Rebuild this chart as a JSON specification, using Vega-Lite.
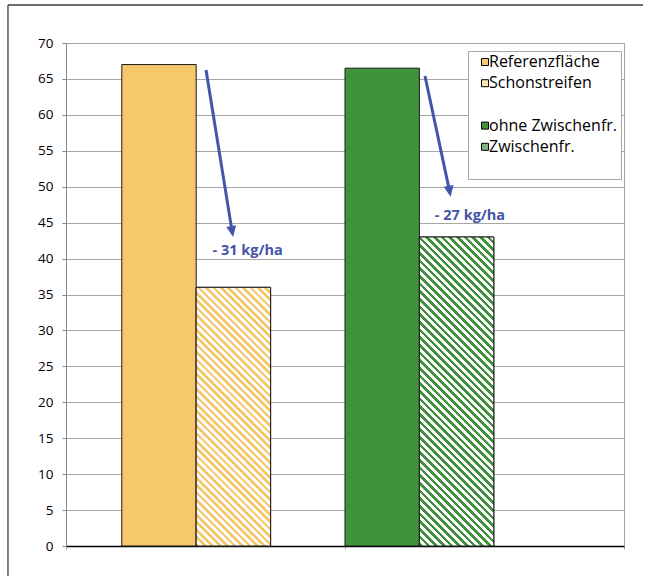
{
  "$schema": "https://vega.github.io/schema/vega-lite/v6.json",
  "width": 558,
  "height": 503,
  "autosize": {"type": "none"},
  "padding": {"left": 66, "top": 43, "right": 25, "bottom": 30},
  "background": "#ffffff",
  "config": {"view": {"stroke": "#a6a6a6", "strokeWidth": 1}, "font": "Open Sans"},
  "datasets": {
    "ertrag": [
      {"Variante": "Referenzfläche", "Ertrag": 67},
      {"Variante": "Schonstreifen", "Ertrag": 36},
      {"Variante": "ohne Zwischenfr.", "Ertrag": 66.5},
      {"Variante": "Zwischenfr.", "Ertrag": 43}
    ],
    "pfeile": [
      {"x0": 1.632, "y0": 66.24, "x1": 1.983, "y1": 43.75},
      {"x0": 4.575, "y0": 65.41, "x1": 4.906, "y1": 49.36}
    ],
    "differenz": [
      {"x": 2.192, "y": 41.1, "text": "- 31 kg/ha"},
      {"x": 5.18, "y": 45.9, "text": "- 27 kg/ha"}
    ]
  },
  "resolve": {"scale": {"x": "independent"}},
  "layer": [
    {
      "data": {"name": "ertrag"},
      "mark": {"type": "bar", "stroke": "#1a1a1a", "strokeWidth": 1},
      "encoding": {
        "x": {"field": "Variante", "type": "nominal",
          "scale": {"domain": ["Referenzfläche", "Schonstreifen", "Leer1", "ohne Zwischenfr.", "Zwischenfr.", "Leer2"], "paddingInner": 0, "paddingOuter": 0.75},
          "axis": null},
        "y": {"field": "Ertrag", "type": "quantitative",
          "scale": {"domain": [0, 70], "nice": false},
          "axis": {"values": [0, 5, 10, 15, 20, 25, 30, 35, 40, 45, 50, 55, 60, 65, 70], "labelOverlap": false, "grid": true, "gridColor": "#a6a6a6", "domainColor": "#8a8a8a", "tickColor": "#8a8a8a", "tickSize": 4, "labelFontSize": 13.5, "labelColor": "#000000", "labelPadding": 9, "labelFont": "Open Sans", "title": null}},
        "fill": {"field": "Variante", "type": "nominal",
          "scale": {
            "domain": ["Referenzfläche", "Schonstreifen", "Leer1", "ohne Zwischenfr.", "Zwischenfr.", "Leer2"],
            "range": ["#F7C86B", "#FBE3B5", "transparent", "#41923D", "#80B67D", "transparent"]
          },
          "legend": {
            "orient": "none", "legendX": 402, "legendY": 8, "title": null,
            "symbolType": "square", "symbolSize": 49, "symbolStrokeColor": "#000000", "symbolStrokeWidth": 1,
            "symbolOffset": 6, "labelOffset": -4, "labelFontSize": 16, "labelFont": "Open Sans", "labelColor": "#000000",
            "labelLimit": 220, "rowPadding": 5.2, "padding": 3,
            "strokeColor": "#a6a6a6", "fillColor": "#ffffff",
            "labelExpr": "indexof(datum.value, 'Leer') === 0 ? '                               ' : datum.label",
            "encode": {"symbols": {"update": {
              "opacity": {"signal": "indexof(datum.value, 'Leer') === 0 ? 0 : 1"},
              "stroke": {"value": "#000000"},
              "strokeWidth": {"value": 1}
            }}}
          }
        }
      }
    },
    {
      "data": {"name": "ertrag"},
      "transform": [{"filter": "datum.Variante === 'Schonstreifen'"}],
      "mark": {"type": "bar", "stroke": "#1a1a1a", "strokeWidth": 1,
        "fill": {"gradient": "linear", "x1": 0, "y1": 1, "x2": 0.342, "y2": -0.1892, "stops": [
          {"offset": 0, "color": "#F7C86B"}, {"offset": 0.0111, "color": "#F7C86B"},
          {"offset": 0.0111, "color": "#FFFFFF"}, {"offset": 0.0222, "color": "#FFFFFF"},
          {"offset": 0.0222, "color": "#F7C86B"}, {"offset": 0.0333, "color": "#F7C86B"},
          {"offset": 0.0333, "color": "#FFFFFF"}, {"offset": 0.0444, "color": "#FFFFFF"},
          {"offset": 0.0444, "color": "#F7C86B"}, {"offset": 0.0556, "color": "#F7C86B"},
          {"offset": 0.0556, "color": "#FFFFFF"}, {"offset": 0.0667, "color": "#FFFFFF"},
          {"offset": 0.0667, "color": "#F7C86B"}, {"offset": 0.0778, "color": "#F7C86B"},
          {"offset": 0.0778, "color": "#FFFFFF"}, {"offset": 0.0889, "color": "#FFFFFF"},
          {"offset": 0.0889, "color": "#F7C86B"}, {"offset": 0.1, "color": "#F7C86B"},
          {"offset": 0.1, "color": "#FFFFFF"}, {"offset": 0.1111, "color": "#FFFFFF"},
          {"offset": 0.1111, "color": "#F7C86B"}, {"offset": 0.1222, "color": "#F7C86B"},
          {"offset": 0.1222, "color": "#FFFFFF"}, {"offset": 0.1333, "color": "#FFFFFF"},
          {"offset": 0.1333, "color": "#F7C86B"}, {"offset": 0.1444, "color": "#F7C86B"},
          {"offset": 0.1444, "color": "#FFFFFF"}, {"offset": 0.1556, "color": "#FFFFFF"},
          {"offset": 0.1556, "color": "#F7C86B"}, {"offset": 0.1667, "color": "#F7C86B"},
          {"offset": 0.1667, "color": "#FFFFFF"}, {"offset": 0.1778, "color": "#FFFFFF"},
          {"offset": 0.1778, "color": "#F7C86B"}, {"offset": 0.1889, "color": "#F7C86B"},
          {"offset": 0.1889, "color": "#FFFFFF"}, {"offset": 0.2, "color": "#FFFFFF"},
          {"offset": 0.2, "color": "#F7C86B"}, {"offset": 0.2111, "color": "#F7C86B"},
          {"offset": 0.2111, "color": "#FFFFFF"}, {"offset": 0.2222, "color": "#FFFFFF"},
          {"offset": 0.2222, "color": "#F7C86B"}, {"offset": 0.2333, "color": "#F7C86B"},
          {"offset": 0.2333, "color": "#FFFFFF"}, {"offset": 0.2444, "color": "#FFFFFF"},
          {"offset": 0.2444, "color": "#F7C86B"}, {"offset": 0.2556, "color": "#F7C86B"},
          {"offset": 0.2556, "color": "#FFFFFF"}, {"offset": 0.2667, "color": "#FFFFFF"},
          {"offset": 0.2667, "color": "#F7C86B"}, {"offset": 0.2778, "color": "#F7C86B"},
          {"offset": 0.2778, "color": "#FFFFFF"}, {"offset": 0.2889, "color": "#FFFFFF"},
          {"offset": 0.2889, "color": "#F7C86B"}, {"offset": 0.3, "color": "#F7C86B"},
          {"offset": 0.3, "color": "#FFFFFF"}, {"offset": 0.3111, "color": "#FFFFFF"},
          {"offset": 0.3111, "color": "#F7C86B"}, {"offset": 0.3222, "color": "#F7C86B"},
          {"offset": 0.3222, "color": "#FFFFFF"}, {"offset": 0.3333, "color": "#FFFFFF"},
          {"offset": 0.3333, "color": "#F7C86B"}, {"offset": 0.3444, "color": "#F7C86B"},
          {"offset": 0.3444, "color": "#FFFFFF"}, {"offset": 0.3556, "color": "#FFFFFF"},
          {"offset": 0.3556, "color": "#F7C86B"}, {"offset": 0.3667, "color": "#F7C86B"},
          {"offset": 0.3667, "color": "#FFFFFF"}, {"offset": 0.3778, "color": "#FFFFFF"},
          {"offset": 0.3778, "color": "#F7C86B"}, {"offset": 0.3889, "color": "#F7C86B"},
          {"offset": 0.3889, "color": "#FFFFFF"}, {"offset": 0.4, "color": "#FFFFFF"},
          {"offset": 0.4, "color": "#F7C86B"}, {"offset": 0.4111, "color": "#F7C86B"},
          {"offset": 0.4111, "color": "#FFFFFF"}, {"offset": 0.4222, "color": "#FFFFFF"},
          {"offset": 0.4222, "color": "#F7C86B"}, {"offset": 0.4333, "color": "#F7C86B"},
          {"offset": 0.4333, "color": "#FFFFFF"}, {"offset": 0.4444, "color": "#FFFFFF"},
          {"offset": 0.4444, "color": "#F7C86B"}, {"offset": 0.4556, "color": "#F7C86B"},
          {"offset": 0.4556, "color": "#FFFFFF"}, {"offset": 0.4667, "color": "#FFFFFF"},
          {"offset": 0.4667, "color": "#F7C86B"}, {"offset": 0.4778, "color": "#F7C86B"},
          {"offset": 0.4778, "color": "#FFFFFF"}, {"offset": 0.4889, "color": "#FFFFFF"},
          {"offset": 0.4889, "color": "#F7C86B"}, {"offset": 0.5, "color": "#F7C86B"},
          {"offset": 0.5, "color": "#FFFFFF"}, {"offset": 0.5111, "color": "#FFFFFF"},
          {"offset": 0.5111, "color": "#F7C86B"}, {"offset": 0.5222, "color": "#F7C86B"},
          {"offset": 0.5222, "color": "#FFFFFF"}, {"offset": 0.5333, "color": "#FFFFFF"},
          {"offset": 0.5333, "color": "#F7C86B"}, {"offset": 0.5444, "color": "#F7C86B"},
          {"offset": 0.5444, "color": "#FFFFFF"}, {"offset": 0.5556, "color": "#FFFFFF"},
          {"offset": 0.5556, "color": "#F7C86B"}, {"offset": 0.5667, "color": "#F7C86B"},
          {"offset": 0.5667, "color": "#FFFFFF"}, {"offset": 0.5778, "color": "#FFFFFF"},
          {"offset": 0.5778, "color": "#F7C86B"}, {"offset": 0.5889, "color": "#F7C86B"},
          {"offset": 0.5889, "color": "#FFFFFF"}, {"offset": 0.6, "color": "#FFFFFF"},
          {"offset": 0.6, "color": "#F7C86B"}, {"offset": 0.6111, "color": "#F7C86B"},
          {"offset": 0.6111, "color": "#FFFFFF"}, {"offset": 0.6222, "color": "#FFFFFF"},
          {"offset": 0.6222, "color": "#F7C86B"}, {"offset": 0.6333, "color": "#F7C86B"},
          {"offset": 0.6333, "color": "#FFFFFF"}, {"offset": 0.6444, "color": "#FFFFFF"},
          {"offset": 0.6444, "color": "#F7C86B"}, {"offset": 0.6556, "color": "#F7C86B"},
          {"offset": 0.6556, "color": "#FFFFFF"}, {"offset": 0.6667, "color": "#FFFFFF"},
          {"offset": 0.6667, "color": "#F7C86B"}, {"offset": 0.6778, "color": "#F7C86B"},
          {"offset": 0.6778, "color": "#FFFFFF"}, {"offset": 0.6889, "color": "#FFFFFF"},
          {"offset": 0.6889, "color": "#F7C86B"}, {"offset": 0.7, "color": "#F7C86B"},
          {"offset": 0.7, "color": "#FFFFFF"}, {"offset": 0.7111, "color": "#FFFFFF"},
          {"offset": 0.7111, "color": "#F7C86B"}, {"offset": 0.7222, "color": "#F7C86B"},
          {"offset": 0.7222, "color": "#FFFFFF"}, {"offset": 0.7333, "color": "#FFFFFF"},
          {"offset": 0.7333, "color": "#F7C86B"}, {"offset": 0.7444, "color": "#F7C86B"},
          {"offset": 0.7444, "color": "#FFFFFF"}, {"offset": 0.7556, "color": "#FFFFFF"},
          {"offset": 0.7556, "color": "#F7C86B"}, {"offset": 0.7667, "color": "#F7C86B"},
          {"offset": 0.7667, "color": "#FFFFFF"}, {"offset": 0.7778, "color": "#FFFFFF"},
          {"offset": 0.7778, "color": "#F7C86B"}, {"offset": 0.7889, "color": "#F7C86B"},
          {"offset": 0.7889, "color": "#FFFFFF"}, {"offset": 0.8, "color": "#FFFFFF"},
          {"offset": 0.8, "color": "#F7C86B"}, {"offset": 0.8111, "color": "#F7C86B"},
          {"offset": 0.8111, "color": "#FFFFFF"}, {"offset": 0.8222, "color": "#FFFFFF"},
          {"offset": 0.8222, "color": "#F7C86B"}, {"offset": 0.8333, "color": "#F7C86B"},
          {"offset": 0.8333, "color": "#FFFFFF"}, {"offset": 0.8444, "color": "#FFFFFF"},
          {"offset": 0.8444, "color": "#F7C86B"}, {"offset": 0.8556, "color": "#F7C86B"},
          {"offset": 0.8556, "color": "#FFFFFF"}, {"offset": 0.8667, "color": "#FFFFFF"},
          {"offset": 0.8667, "color": "#F7C86B"}, {"offset": 0.8778, "color": "#F7C86B"},
          {"offset": 0.8778, "color": "#FFFFFF"}, {"offset": 0.8889, "color": "#FFFFFF"},
          {"offset": 0.8889, "color": "#F7C86B"}, {"offset": 0.9, "color": "#F7C86B"},
          {"offset": 0.9, "color": "#FFFFFF"}, {"offset": 0.9111, "color": "#FFFFFF"},
          {"offset": 0.9111, "color": "#F7C86B"}, {"offset": 0.9222, "color": "#F7C86B"},
          {"offset": 0.9222, "color": "#FFFFFF"}, {"offset": 0.9333, "color": "#FFFFFF"},
          {"offset": 0.9333, "color": "#F7C86B"}, {"offset": 0.9444, "color": "#F7C86B"},
          {"offset": 0.9444, "color": "#FFFFFF"}, {"offset": 0.9556, "color": "#FFFFFF"},
          {"offset": 0.9556, "color": "#F7C86B"}, {"offset": 0.9667, "color": "#F7C86B"},
          {"offset": 0.9667, "color": "#FFFFFF"}, {"offset": 0.9778, "color": "#FFFFFF"},
          {"offset": 0.9778, "color": "#F7C86B"}, {"offset": 0.9889, "color": "#F7C86B"},
          {"offset": 0.9889, "color": "#FFFFFF"}, {"offset": 1, "color": "#FFFFFF"}
        ]}},
      "encoding": {
        "x": {"field": "Variante", "type": "nominal",
          "scale": {"domain": ["Referenzfläche", "Schonstreifen", "Leer1", "ohne Zwischenfr.", "Zwischenfr.", "Leer2"], "paddingInner": 0, "paddingOuter": 0.75},
          "axis": null},
        "y": {"field": "Ertrag", "type": "quantitative", "scale": {"domain": [0, 70], "nice": false},
          "axis": {"values": [0, 5, 10, 15, 20, 25, 30, 35, 40, 45, 50, 55, 60, 65, 70], "labelOverlap": false, "grid": true, "gridColor": "#a6a6a6", "domainColor": "#8a8a8a", "tickColor": "#8a8a8a", "tickSize": 4, "labelFontSize": 13.5, "labelColor": "#000000", "labelPadding": 9, "labelFont": "Open Sans", "title": null}}
      }
    },
    {
      "data": {"name": "ertrag"},
      "transform": [{"filter": "datum.Variante === 'Zwischenfr.'"}],
      "mark": {"type": "bar", "stroke": "#1a1a1a", "strokeWidth": 1,
        "fill": {"gradient": "linear", "x1": 0, "y1": 1, "x2": 0.2824, "y2": -0.1728, "stops": [
          {"offset": 0, "color": "#41923D"}, {"offset": 0.01, "color": "#41923D"},
          {"offset": 0.01, "color": "#FFFFFF"}, {"offset": 0.02, "color": "#FFFFFF"},
          {"offset": 0.02, "color": "#41923D"}, {"offset": 0.03, "color": "#41923D"},
          {"offset": 0.03, "color": "#FFFFFF"}, {"offset": 0.04, "color": "#FFFFFF"},
          {"offset": 0.04, "color": "#41923D"}, {"offset": 0.05, "color": "#41923D"},
          {"offset": 0.05, "color": "#FFFFFF"}, {"offset": 0.06, "color": "#FFFFFF"},
          {"offset": 0.06, "color": "#41923D"}, {"offset": 0.07, "color": "#41923D"},
          {"offset": 0.07, "color": "#FFFFFF"}, {"offset": 0.08, "color": "#FFFFFF"},
          {"offset": 0.08, "color": "#41923D"}, {"offset": 0.09, "color": "#41923D"},
          {"offset": 0.09, "color": "#FFFFFF"}, {"offset": 0.1, "color": "#FFFFFF"},
          {"offset": 0.1, "color": "#41923D"}, {"offset": 0.11, "color": "#41923D"},
          {"offset": 0.11, "color": "#FFFFFF"}, {"offset": 0.12, "color": "#FFFFFF"},
          {"offset": 0.12, "color": "#41923D"}, {"offset": 0.13, "color": "#41923D"},
          {"offset": 0.13, "color": "#FFFFFF"}, {"offset": 0.14, "color": "#FFFFFF"},
          {"offset": 0.14, "color": "#41923D"}, {"offset": 0.15, "color": "#41923D"},
          {"offset": 0.15, "color": "#FFFFFF"}, {"offset": 0.16, "color": "#FFFFFF"},
          {"offset": 0.16, "color": "#41923D"}, {"offset": 0.17, "color": "#41923D"},
          {"offset": 0.17, "color": "#FFFFFF"}, {"offset": 0.18, "color": "#FFFFFF"},
          {"offset": 0.18, "color": "#41923D"}, {"offset": 0.19, "color": "#41923D"},
          {"offset": 0.19, "color": "#FFFFFF"}, {"offset": 0.2, "color": "#FFFFFF"},
          {"offset": 0.2, "color": "#41923D"}, {"offset": 0.21, "color": "#41923D"},
          {"offset": 0.21, "color": "#FFFFFF"}, {"offset": 0.22, "color": "#FFFFFF"},
          {"offset": 0.22, "color": "#41923D"}, {"offset": 0.23, "color": "#41923D"},
          {"offset": 0.23, "color": "#FFFFFF"}, {"offset": 0.24, "color": "#FFFFFF"},
          {"offset": 0.24, "color": "#41923D"}, {"offset": 0.25, "color": "#41923D"},
          {"offset": 0.25, "color": "#FFFFFF"}, {"offset": 0.26, "color": "#FFFFFF"},
          {"offset": 0.26, "color": "#41923D"}, {"offset": 0.27, "color": "#41923D"},
          {"offset": 0.27, "color": "#FFFFFF"}, {"offset": 0.28, "color": "#FFFFFF"},
          {"offset": 0.28, "color": "#41923D"}, {"offset": 0.29, "color": "#41923D"},
          {"offset": 0.29, "color": "#FFFFFF"}, {"offset": 0.3, "color": "#FFFFFF"},
          {"offset": 0.3, "color": "#41923D"}, {"offset": 0.31, "color": "#41923D"},
          {"offset": 0.31, "color": "#FFFFFF"}, {"offset": 0.32, "color": "#FFFFFF"},
          {"offset": 0.32, "color": "#41923D"}, {"offset": 0.33, "color": "#41923D"},
          {"offset": 0.33, "color": "#FFFFFF"}, {"offset": 0.34, "color": "#FFFFFF"},
          {"offset": 0.34, "color": "#41923D"}, {"offset": 0.35, "color": "#41923D"},
          {"offset": 0.35, "color": "#FFFFFF"}, {"offset": 0.36, "color": "#FFFFFF"},
          {"offset": 0.36, "color": "#41923D"}, {"offset": 0.37, "color": "#41923D"},
          {"offset": 0.37, "color": "#FFFFFF"}, {"offset": 0.38, "color": "#FFFFFF"},
          {"offset": 0.38, "color": "#41923D"}, {"offset": 0.39, "color": "#41923D"},
          {"offset": 0.39, "color": "#FFFFFF"}, {"offset": 0.4, "color": "#FFFFFF"},
          {"offset": 0.4, "color": "#41923D"}, {"offset": 0.41, "color": "#41923D"},
          {"offset": 0.41, "color": "#FFFFFF"}, {"offset": 0.42, "color": "#FFFFFF"},
          {"offset": 0.42, "color": "#41923D"}, {"offset": 0.43, "color": "#41923D"},
          {"offset": 0.43, "color": "#FFFFFF"}, {"offset": 0.44, "color": "#FFFFFF"},
          {"offset": 0.44, "color": "#41923D"}, {"offset": 0.45, "color": "#41923D"},
          {"offset": 0.45, "color": "#FFFFFF"}, {"offset": 0.46, "color": "#FFFFFF"},
          {"offset": 0.46, "color": "#41923D"}, {"offset": 0.47, "color": "#41923D"},
          {"offset": 0.47, "color": "#FFFFFF"}, {"offset": 0.48, "color": "#FFFFFF"},
          {"offset": 0.48, "color": "#41923D"}, {"offset": 0.49, "color": "#41923D"},
          {"offset": 0.49, "color": "#FFFFFF"}, {"offset": 0.5, "color": "#FFFFFF"},
          {"offset": 0.5, "color": "#41923D"}, {"offset": 0.51, "color": "#41923D"},
          {"offset": 0.51, "color": "#FFFFFF"}, {"offset": 0.52, "color": "#FFFFFF"},
          {"offset": 0.52, "color": "#41923D"}, {"offset": 0.53, "color": "#41923D"},
          {"offset": 0.53, "color": "#FFFFFF"}, {"offset": 0.54, "color": "#FFFFFF"},
          {"offset": 0.54, "color": "#41923D"}, {"offset": 0.55, "color": "#41923D"},
          {"offset": 0.55, "color": "#FFFFFF"}, {"offset": 0.56, "color": "#FFFFFF"},
          {"offset": 0.56, "color": "#41923D"}, {"offset": 0.57, "color": "#41923D"},
          {"offset": 0.57, "color": "#FFFFFF"}, {"offset": 0.58, "color": "#FFFFFF"},
          {"offset": 0.58, "color": "#41923D"}, {"offset": 0.59, "color": "#41923D"},
          {"offset": 0.59, "color": "#FFFFFF"}, {"offset": 0.6, "color": "#FFFFFF"},
          {"offset": 0.6, "color": "#41923D"}, {"offset": 0.61, "color": "#41923D"},
          {"offset": 0.61, "color": "#FFFFFF"}, {"offset": 0.62, "color": "#FFFFFF"},
          {"offset": 0.62, "color": "#41923D"}, {"offset": 0.63, "color": "#41923D"},
          {"offset": 0.63, "color": "#FFFFFF"}, {"offset": 0.64, "color": "#FFFFFF"},
          {"offset": 0.64, "color": "#41923D"}, {"offset": 0.65, "color": "#41923D"},
          {"offset": 0.65, "color": "#FFFFFF"}, {"offset": 0.66, "color": "#FFFFFF"},
          {"offset": 0.66, "color": "#41923D"}, {"offset": 0.67, "color": "#41923D"},
          {"offset": 0.67, "color": "#FFFFFF"}, {"offset": 0.68, "color": "#FFFFFF"},
          {"offset": 0.68, "color": "#41923D"}, {"offset": 0.69, "color": "#41923D"},
          {"offset": 0.69, "color": "#FFFFFF"}, {"offset": 0.7, "color": "#FFFFFF"},
          {"offset": 0.7, "color": "#41923D"}, {"offset": 0.71, "color": "#41923D"},
          {"offset": 0.71, "color": "#FFFFFF"}, {"offset": 0.72, "color": "#FFFFFF"},
          {"offset": 0.72, "color": "#41923D"}, {"offset": 0.73, "color": "#41923D"},
          {"offset": 0.73, "color": "#FFFFFF"}, {"offset": 0.74, "color": "#FFFFFF"},
          {"offset": 0.74, "color": "#41923D"}, {"offset": 0.75, "color": "#41923D"},
          {"offset": 0.75, "color": "#FFFFFF"}, {"offset": 0.76, "color": "#FFFFFF"},
          {"offset": 0.76, "color": "#41923D"}, {"offset": 0.77, "color": "#41923D"},
          {"offset": 0.77, "color": "#FFFFFF"}, {"offset": 0.78, "color": "#FFFFFF"},
          {"offset": 0.78, "color": "#41923D"}, {"offset": 0.79, "color": "#41923D"},
          {"offset": 0.79, "color": "#FFFFFF"}, {"offset": 0.8, "color": "#FFFFFF"},
          {"offset": 0.8, "color": "#41923D"}, {"offset": 0.81, "color": "#41923D"},
          {"offset": 0.81, "color": "#FFFFFF"}, {"offset": 0.82, "color": "#FFFFFF"},
          {"offset": 0.82, "color": "#41923D"}, {"offset": 0.83, "color": "#41923D"},
          {"offset": 0.83, "color": "#FFFFFF"}, {"offset": 0.84, "color": "#FFFFFF"},
          {"offset": 0.84, "color": "#41923D"}, {"offset": 0.85, "color": "#41923D"},
          {"offset": 0.85, "color": "#FFFFFF"}, {"offset": 0.86, "color": "#FFFFFF"},
          {"offset": 0.86, "color": "#41923D"}, {"offset": 0.87, "color": "#41923D"},
          {"offset": 0.87, "color": "#FFFFFF"}, {"offset": 0.88, "color": "#FFFFFF"},
          {"offset": 0.88, "color": "#41923D"}, {"offset": 0.89, "color": "#41923D"},
          {"offset": 0.89, "color": "#FFFFFF"}, {"offset": 0.9, "color": "#FFFFFF"},
          {"offset": 0.9, "color": "#41923D"}, {"offset": 0.91, "color": "#41923D"},
          {"offset": 0.91, "color": "#FFFFFF"}, {"offset": 0.92, "color": "#FFFFFF"},
          {"offset": 0.92, "color": "#41923D"}, {"offset": 0.93, "color": "#41923D"},
          {"offset": 0.93, "color": "#FFFFFF"}, {"offset": 0.94, "color": "#FFFFFF"},
          {"offset": 0.94, "color": "#41923D"}, {"offset": 0.95, "color": "#41923D"},
          {"offset": 0.95, "color": "#FFFFFF"}, {"offset": 0.96, "color": "#FFFFFF"},
          {"offset": 0.96, "color": "#41923D"}, {"offset": 0.97, "color": "#41923D"},
          {"offset": 0.97, "color": "#FFFFFF"}, {"offset": 0.98, "color": "#FFFFFF"},
          {"offset": 0.98, "color": "#41923D"}, {"offset": 0.99, "color": "#41923D"},
          {"offset": 0.99, "color": "#FFFFFF"}, {"offset": 1, "color": "#FFFFFF"}
        ]}},
      "encoding": {
        "x": {"field": "Variante", "type": "nominal",
          "scale": {"domain": ["Referenzfläche", "Schonstreifen", "Leer1", "ohne Zwischenfr.", "Zwischenfr.", "Leer2"], "paddingInner": 0, "paddingOuter": 0.75},
          "axis": null},
        "y": {"field": "Ertrag", "type": "quantitative", "scale": {"domain": [0, 70], "nice": false},
          "axis": {"values": [0, 5, 10, 15, 20, 25, 30, 35, 40, 45, 50, 55, 60, 65, 70], "labelOverlap": false, "grid": true, "gridColor": "#a6a6a6", "domainColor": "#8a8a8a", "tickColor": "#8a8a8a", "tickSize": 4, "labelFontSize": 13.5, "labelColor": "#000000", "labelPadding": 9, "labelFont": "Open Sans", "title": null}}
      }
    },
    {
      "data": {"values": [{}]},
      "mark": {"type": "rule", "stroke": "#3c3c3c", "strokeWidth": 1.3},
      "encoding": {
        "x": {"datum": -1.03, "type": "quantitative",
          "scale": {"domain": [-0.25, 7.25], "nice": false, "zero": false},
          "axis": {"values": [-0.25, 3.5, 7.25], "labels": false, "grid": false, "tickSize": 3, "tickColor": "#a6a6a6", "domainColor": "#000000", "domainWidth": 1.5, "title": null}},
        "x2": {"datum": 7.505},
        "y": {"datum": 75.29, "type": "quantitative", "scale": {"domain": [0, 70], "nice": false},
          "axis": {"values": [0, 5, 10, 15, 20, 25, 30, 35, 40, 45, 50, 55, 60, 65, 70], "labelOverlap": false, "grid": true, "gridColor": "#a6a6a6", "domainColor": "#8a8a8a", "tickColor": "#8a8a8a", "tickSize": 4, "labelFontSize": 13.5, "labelColor": "#000000", "labelPadding": 9, "labelFont": "Open Sans", "title": null}}
      }
    },
    {
      "data": {"values": [{}]},
      "mark": {"type": "rule", "stroke": "#3c3c3c", "strokeWidth": 1.3},
      "encoding": {
        "x": {"datum": -1.03, "type": "quantitative",
          "scale": {"domain": [-0.25, 7.25], "nice": false, "zero": false}, "axis": null},
        "y": {"datum": 75.29, "type": "quantitative", "scale": {"domain": [0, 70], "nice": false},
          "axis": {"values": [0, 5, 10, 15, 20, 25, 30, 35, 40, 45, 50, 55, 60, 65, 70], "labelOverlap": false, "grid": true, "gridColor": "#a6a6a6", "domainColor": "#8a8a8a", "tickColor": "#8a8a8a", "tickSize": 4, "labelFontSize": 13.5, "labelColor": "#000000", "labelPadding": 9, "labelFont": "Open Sans", "title": null}},
        "y2": {"datum": -6}
      }
    },
    {
      "data": {"name": "pfeile"},
      "mark": {"type": "rule", "color": "#4454AA", "strokeWidth": 3},
      "encoding": {
        "x": {"field": "x0", "type": "quantitative", "scale": {"domain": [-0.25, 7.25], "nice": false, "zero": false}, "axis": null},
        "x2": {"field": "x1"},
        "y": {"field": "y0", "type": "quantitative", "scale": {"domain": [0, 70], "nice": false},
          "axis": {"values": [0, 5, 10, 15, 20, 25, 30, 35, 40, 45, 50, 55, 60, 65, 70], "labelOverlap": false, "grid": true, "gridColor": "#a6a6a6", "domainColor": "#8a8a8a", "tickColor": "#8a8a8a", "tickSize": 4, "labelFontSize": 13.5, "labelColor": "#000000", "labelPadding": 9, "labelFont": "Open Sans", "title": null}},
        "y2": {"field": "y1"}
      }
    },
    {
      "data": {"name": "pfeile"},
      "mark": {"type": "point", "shape": "M-0.9,-1L0.9,-1L0,1Z", "size": 121, "angle": 350, "filled": true, "color": "#4454AA", "opacity": 1, "strokeWidth": 0},
      "encoding": {
        "x": {"field": "x1", "type": "quantitative", "scale": {"domain": [-0.25, 7.25], "nice": false, "zero": false}, "axis": null},
        "y": {"field": "y1", "type": "quantitative", "scale": {"domain": [0, 70], "nice": false},
          "axis": {"values": [0, 5, 10, 15, 20, 25, 30, 35, 40, 45, 50, 55, 60, 65, 70], "labelOverlap": false, "grid": true, "gridColor": "#a6a6a6", "domainColor": "#8a8a8a", "tickColor": "#8a8a8a", "tickSize": 4, "labelFontSize": 13.5, "labelColor": "#000000", "labelPadding": 9, "labelFont": "Open Sans", "title": null}}
      }
    },
    {
      "data": {"name": "differenz"},
      "mark": {"type": "text", "font": "Open Sans", "fontWeight": "bold", "fontSize": 14.5, "color": "#4454AA", "align": "center", "baseline": "middle"},
      "encoding": {
        "x": {"field": "x", "type": "quantitative", "scale": {"domain": [-0.25, 7.25], "nice": false, "zero": false}, "axis": null},
        "y": {"field": "y", "type": "quantitative", "scale": {"domain": [0, 70], "nice": false},
          "axis": {"values": [0, 5, 10, 15, 20, 25, 30, 35, 40, 45, 50, 55, 60, 65, 70], "labelOverlap": false, "grid": true, "gridColor": "#a6a6a6", "domainColor": "#8a8a8a", "tickColor": "#8a8a8a", "tickSize": 4, "labelFontSize": 13.5, "labelColor": "#000000", "labelPadding": 9, "labelFont": "Open Sans", "title": null}},
        "text": {"field": "text"}
      }
    }
  ]
}
